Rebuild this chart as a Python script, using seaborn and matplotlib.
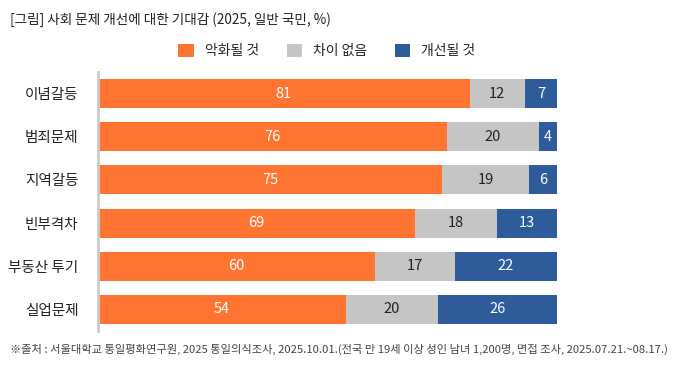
import numpy as np
import pandas as pd
import matplotlib
matplotlib.use("Agg")
import matplotlib.pyplot as plt
from matplotlib.patches import Patch
import seaborn as sns

categories = ["이념갈등", "범죄문제", "지역갈등", "빈부격차", "부동산 투기", "실업문제"]
worse = [81, 76, 75, 69, 60.4, 54]
same = [12, 20, 19, 18, 17.4, 20]
better = [7, 4, 6, 13, 22.2, 26]

series_names = ["악화될 것", "차이 없음", "개선될 것"]
colors = ["#FF7430", "#C5C5C3", "#2E5C9A"]
text_colors = ["white", "#222222", "white"]

sns.set_theme(style="white")
plt.rcParams["font.family"] = ["Noto Sans CJK KR", "DejaVu Sans"]

df = pd.DataFrame({"cat": categories, "worse": worse, "same": same, "better": better})
df["c1"] = df["worse"]
df["c2"] = df["worse"] + df["same"]
df["c3"] = df["c2"] + df["better"]

fig = plt.figure(figsize=(6.79, 3.70), dpi=100)
ax = fig.add_axes([98 / 679, 1 - 331 / 370, 459 / 679, 259 / 370])

# 누적 막대: 가장 긴 것부터 겹쳐 그리기
for col, color in zip(["c3", "c2", "c1"], colors[::-1]):
    sns.barplot(data=df, x=col, y="cat", color=color, width=0.67,
                orient="h", ax=ax, saturation=1, linewidth=0)

# 값 라벨
segs = [("worse", 0), ("same", 1), ("better", 2)]
for i, row in df.iterrows():
    left = 0
    for key, k in segs:
        v = row[key]
        ax.text(left + v / 2, i, f"{round(v):d}", ha="center", va="center",
                fontsize=10.5, color=text_colors[k])
        left += v

ax.set_xlim(0, 100)
ax.set_ylim(5.5, -0.5)
ax.set_xlabel("")
ax.set_ylabel("")
ax.set_xticks([])
ax.tick_params(axis="y", length=0, pad=14, labelsize=10.5, labelcolor="#222222")
for s in ["top", "right", "bottom"]:
    ax.spines[s].set_visible(False)
ax.spines["left"].set_color("#CCCCCC")
ax.spines["left"].set_linewidth(2)

fig.text(10 / 679, 1 - 20 / 370, "[그림] 사회 문제 개선에 대한 기대감 (2025, 일반 국민, %)",
         fontsize=9.8, color="#222222", va="center", ha="left")

handles = [Patch(facecolor=c, edgecolor="none") for c in colors]
fig.legend(handles, series_names, loc="center", bbox_to_anchor=(327 / 679, 1 - 51 / 370),
           ncol=3, frameon=False, fontsize=10, handlelength=1.1, handleheight=1.1,
           handletextpad=0.8, columnspacing=2.0)

fig.text(10 / 679, 1 - 349 / 370,
         "※출처 : 서울대학교 통일평화연구원, 2025 통일의식조사, 2025.10.01.(전국 만 19세 이상 성인 남녀 1,200명, 면접 조사, 2025.07.21.~08.17.)",
         fontsize=8.1, color="#444444", va="center", ha="left")

fig.savefig("out.png", dpi=100)
